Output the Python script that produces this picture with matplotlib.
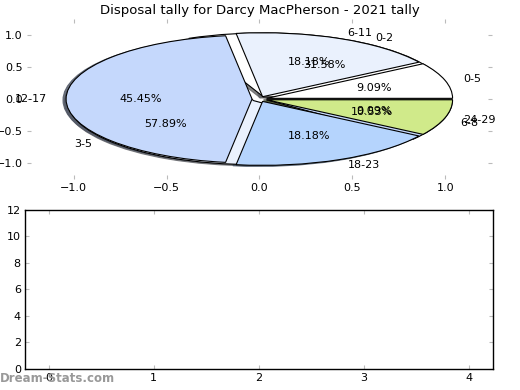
import matplotlib
matplotlib.use("Agg")
import matplotlib.pyplot as plt

# Data
disp_labels = ["0-5", "6-11", "12-17", "18-23", "24-29"]
disp_values = [1, 2, 5, 2, 1]
kick_labels = ["0-2", "3-5", "6-8"]
kick_values = [6, 11, 2]
colors = ["#ffffff", "#eaf1fd", "#c5d8fc", "#b5d4fd", "#d0ea8a"]
bar_xticks = [0, 1, 2, 3, 4]
bar_yticks = [0, 2, 4, 6, 8, 10, 12]
title = "Disposal tally for Darcy MacPherson - 2021 tally"

fig = plt.figure(figsize=(5.2, 3.9), dpi=100)
fs = 8

def style_ticks(ax):
    ax.tick_params(direction="in", length=3, color="#bbbbbb", labelsize=fs,
                   top=True, right=True, pad=3)

ax1 = fig.add_axes([0.052, 0.541, 0.894, 0.41])
kw = dict(startangle=0, autopct="%1.2f%%",
          shadow=dict(ox=-0.012, oy=-0.012, shade=0.6, alpha=0.8),
          frame=True,
          wedgeprops=dict(edgecolor="black", linewidth=0.8),
          textprops=dict(fontsize=fs))
ax1.pie(kick_values, labels=kick_labels, colors=colors[:3],
        explode=[0.04] * len(kick_values), **kw)
ax1.pie(disp_values, labels=disp_labels, colors=colors,
        explode=[0.04] * len(disp_values), **kw)
ax1.set_aspect("auto")
ax1.set_xlim(-1.25, 1.25)
ax1.set_ylim(-1.25, 1.25)
ax1.set_xticks([-1.0, -0.5, 0.0, 0.5, 1.0])
ax1.set_yticks([-1.0, -0.5, 0.0, 0.5, 1.0])
for s in ax1.spines.values():
    s.set_visible(False)
style_ticks(ax1)
ax1.set_title(title, fontsize=9.5, pad=4)

ax2 = fig.add_axes([0.048, 0.054, 0.900, 0.408])
ax2.set_xlim(-0.225, 4.225)
ax2.set_ylim(0, 12)
ax2.set_xticks(bar_xticks)
ax2.set_yticks(bar_yticks)
style_ticks(ax2)
for s in ax2.spines.values():
    s.set_linewidth(1.0)

fig.text(0.0, 0.012, "Dream-Stats.com", fontsize=8.5, color="#999999",
         fontweight="bold", ha="left", va="bottom")

fig.savefig("out.png", dpi=100)
